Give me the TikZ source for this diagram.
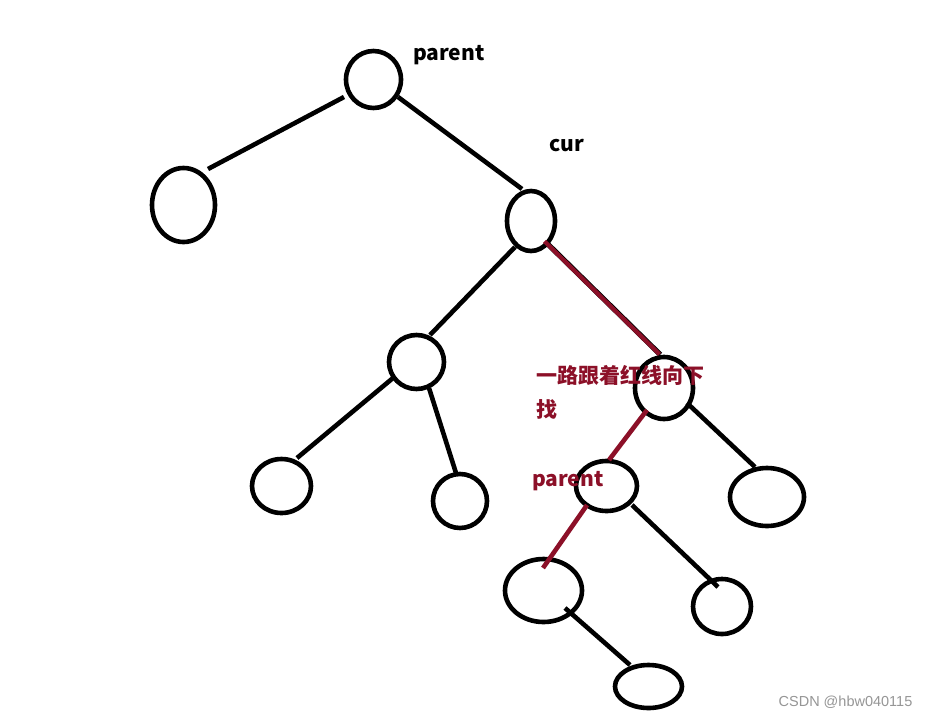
\documentclass[tikz,border=0pt]{standalone}
\usepackage{fontspec}
\setmainfont{Noto Sans CJK SC}
\newfontfamily\cjk{Noto Sans CJK SC}
\newfontfamily\wmfont{Liberation Sans}
\usetikzlibrary{shapes.geometric,calc}
\definecolor{redline}{RGB}{140,16,40}
\definecolor{wmgray}{RGB}{150,150,150}
\tikzset{
  ell/.style={ellipse, draw=black, line width=4.6pt, inner sep=0pt, outer sep=0pt},
  edge/.style={draw=black, line width=4.6pt},
  redge/.style={draw=redline, line width=4.6pt},
  lbl/.style={font=\cjk\bfseries\fontsize{21}{24}\selectfont, inner sep=0pt, anchor=base west},
  rlbl/.style={lbl, text=redline},
}
\begin{document}
\begin{tikzpicture}[x=1pt,y=-1pt]
\useasboundingbox[fill=white] (0,0) rectangle (928,718);
% nodes
\node[ell, minimum width=55pt, minimum height=57pt] (root) at (373.5,79.5) {};
\node[ell, minimum width=63pt, minimum height=74pt] (left) at (183.5,205) {};
\node[ell, minimum width=48pt, minimum height=60pt] (cur) at (531,221) {};
\node[ell, minimum width=55pt, minimum height=54pt] (ml) at (416.5,362) {};
\node[ell, minimum width=58pt, minimum height=62pt] (rn) at (664,388) {};
\node[ell, minimum width=59pt, minimum height=54pt] (l1) at (281.5,486) {};
\node[ell, minimum width=54pt, minimum height=54pt] (l2) at (460,501) {};
\node[ell, minimum width=61pt, minimum height=50pt] (par) at (606.5,486) {};
\node[ell, minimum width=74pt, minimum height=58pt] (rl) at (767,497) {};
\node[ell, minimum width=77pt, minimum height=63pt] (bl) at (543.5,590.5) {};
\node[ell, minimum width=58pt, minimum height=55pt] (br) at (722,606.5) {};
\node[ell, minimum width=67pt, minimum height=43pt] (bb) at (648.5,686.5) {};
% connectors
\draw[edge] ($(root)+(-29.5,17.5)$) -- ($(left)+(24.5,-36)$);
\draw[edge] ($(root)+(24.5,17.5)$) -- ($(cur)+(-9,-32)$);
\draw[edge] ($(cur)+(-16,26)$) -- ($(ml)+(13.5,-27)$);
\draw[edge, line width=5.2pt] ($(cur)+(14.3,20.6)$) -- ($(rn)+(-3.7,-33.4)$);
\draw[redge, line width=4.2pt] ($(cur)+(13.5,20.3)$) -- ($(rn)+(-4.5,-33.7)$);
\draw[edge] ($(ml)+(-23.5,16)$) -- ($(l1)+(15.5,-28)$);
\draw[edge] ($(ml)+(12.5,26)$) -- ($(l2)+(-4,-28)$);
\draw[redge] ($(rn)+(-17,22)$) -- ($(par)+(2.5,-26)$);
\draw[edge] ($(rn)+(23,15)$) -- ($(rl)+(-12,-30)$);
\draw[redge] ($(par)+(-19.5,19)$) -- ($(bl)+(-0.5,-22.5)$);
\draw[edge] ($(par)+(25.5,19)$) -- ($(br)+(-4,-19.5)$);
\draw[edge] ($(bl)+(21.5,17.5)$) -- ($(bb)+(-18.5,-21.5)$);
% labels
\node[lbl] (tparent) at (413,60) {parent};
\node[lbl] (tcur) at (549,151) {cur};
\node[rlbl, anchor=west] (tfind) at (536,375) {一路跟着红线向下};
\node[rlbl, anchor=west] (tfind2) at (536,409) {找};
\node[rlbl] (tparent2) at (532,486) {parent};
\node[font=\wmfont\fontsize{14.5}{16}\selectfont, text=wmgray, inner sep=0pt] (wm) at (845.5,702.5) {CSDN @hbw040115};
\end{tikzpicture}
\end{document}
